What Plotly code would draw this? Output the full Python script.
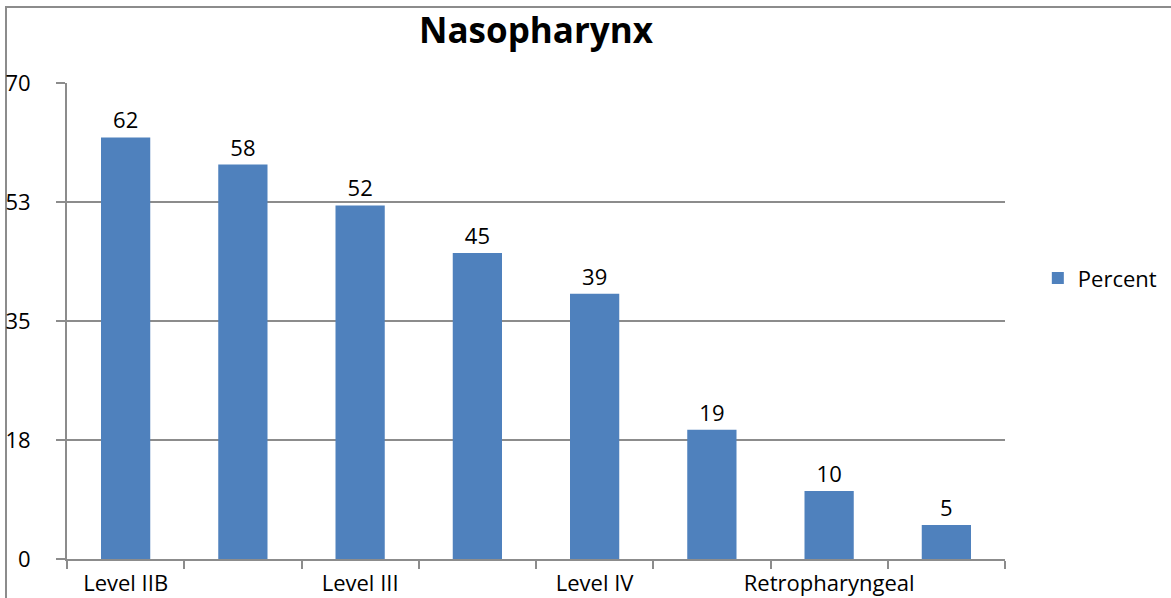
import plotly.graph_objects as go

categories = ["Level IIB", "Level IIA", "Level III", "Level IB", "Level IV", "Level V", "Retropharyngeal", "Level VI"]
shown_labels = ["Level IIB", "", "Level III", "", "Level IV", "", "Retropharyngeal", ""]
percent = [62, 58, 52, 45, 39, 19, 10, 5]
y_tickvals = [0, 17.5, 35, 52.5, 70]
y_ticktext = ["0", "18", "35", "53", "70"]

FONT = "Open Sans"
GRID = "#8c8c8c"

fig = go.Figure()
fig.add_trace(go.Bar(
    x=categories, y=percent, name="Percent",
    marker=dict(color="#4F81BD", line=dict(width=0)),
    width=0.42,
    text=[str(v) for v in percent], textposition="outside",
    textfont=dict(family=FONT, size=22, color="#000000"),
    cliponaxis=False,
))

fig.update_layout(
    width=1171, height=598,
    margin=dict(l=67, r=166, t=83, b=39, autoexpand=False),
    paper_bgcolor="white", plot_bgcolor="white",
    title=dict(text="<b>Nasopharynx</b>", x=536 / 1171, xanchor="center",
               y=1 - 31 / 598, yanchor="middle",
               font=dict(family=FONT, size=35, color="#000000")),
    showlegend=True,
    legend=dict(x=1.035, y=0.59, xanchor="left", yanchor="middle",
                font=dict(family=FONT, size=22, color="#000000"),
                itemwidth=30, bgcolor="rgba(0,0,0,0)"),
)

fig.update_xaxes(
    type="category", automargin=False,
    tickmode="array", tickvals=categories, ticktext=shown_labels, tickangle=0,
    tickson="boundaries", ticks="outside", ticklen=8, tickwidth=2, tickcolor=GRID,
    showline=True, linecolor=GRID, linewidth=2,
    showgrid=False,
    ticklabelstandoff=4,
    tickfont=dict(family=FONT, size=22, color="#000000"),
    range=[-0.5, 7.5],
)
fig.update_yaxes(
    range=[0, 70], tickmode="array", tickvals=y_tickvals, ticktext=y_ticktext,
    automargin=False,
    ticks="outside", ticklen=9, tickwidth=2, tickcolor=GRID,
    showline=True, linecolor=GRID, linewidth=2,
    showgrid=True, gridcolor=GRID, gridwidth=2,
    zeroline=False,
    ticklabelstandoff=21,
    tickfont=dict(family=FONT, size=22, color="#000000"),
)

# outer chart border (left and top edges visible)
fig.add_shape(type="rect", xref="paper", yref="paper",
              x0=(6 - 67) / 938, x1=1.3, y0=-0.3, y1=1 + (83 - 7) / 476,
              line=dict(color=GRID, width=2), fillcolor="rgba(0,0,0,0)", layer="below")

fig.write_html("out.html", config={"displayModeBar": False},
               post_script="document.body.style.margin='0';document.body.style.overflow='hidden';")
